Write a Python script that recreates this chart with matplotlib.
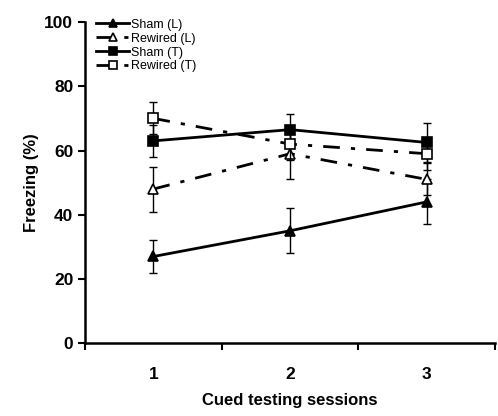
import matplotlib
matplotlib.use("Agg")
import matplotlib.pyplot as plt

plt.rcParams['font.family'] = ['Liberation Sans', 'DejaVu Sans']

# Data
sessions = [1, 2, 3]
session_labels = ["1", "2", "3"]

sham_l = [27, 35, 44]
sham_l_err = [5, 7, 7]
rewired_l = [48, 59, 51]
rewired_l_err = [7, 8, 5]
sham_t = [63, 66.5, 62.5]
sham_t_err = [5, 5, 6]
rewired_t = [70, 62, 59]
rewired_t_err = [5, 5, 5]

fig = plt.figure(figsize=(4.98, 4.16), dpi=100)
ax = fig.add_axes([0.171, 0.175, 0.823, 0.772])

dashdot = (0, (6, 4, 1.5, 4))

series = [
    (sham_l, sham_l_err, "^", "black", "-", "Sham (L)"),
    (rewired_l, rewired_l_err, "^", "white", dashdot, "Rewired (L)"),
    (sham_t, sham_t_err, "s", "black", "-", "Sham (T)"),
    (rewired_t, rewired_t_err, "s", "white", dashdot, "Rewired (T)"),
]

for vals, errs, mk, fc, ls, name in series:
    # error bars first, then the line with markers on top
    ax.errorbar(sessions, vals, yerr=errs, fmt="none", ecolor="black",
                elinewidth=1.0, capsize=3, capthick=1.0)
    ax.plot(sessions, vals, color="black", linestyle=ls, linewidth=2,
            marker=mk, markersize=7, markerfacecolor=fc,
            markeredgecolor="black", markeredgewidth=1.2, label=name)

ax.set_xlim(0.5, 3.5)
ax.set_ylim(0, 100)
ax.set_yticks([0, 20, 40, 60, 80, 100])
ax.set_xticks([0.5, 1.5, 2.5, 3.5])
ax.set_xticklabels([])
ax.set_xticks(sessions, minor=True)
ax.set_xticklabels(session_labels, minor=True)
ax.tick_params(axis="x", which="minor", length=0, pad=17)
ax.tick_params(axis="x", which="major", length=5, width=1.5, direction="out")
ax.tick_params(axis="y", length=5, width=1.5, direction="out")
for lbl in ax.get_xticklabels(minor=True) + ax.get_yticklabels():
    lbl.set_fontsize(12.5)
    lbl.set_fontweight("bold")

for s in ["top", "right"]:
    ax.spines[s].set_visible(False)
for s in ["left", "bottom"]:
    ax.spines[s].set_linewidth(1.8)

ax.set_ylabel("Freezing (%)", fontsize=12, fontweight="bold", labelpad=4)
ax.set_xlabel("Cued testing sessions", fontsize=12, fontweight="bold", labelpad=8)

leg = ax.legend(loc="upper left", bbox_to_anchor=(0.0, 1.045), frameon=False,
                fontsize=9, handlelength=2.6, handletextpad=0.2, labelspacing=0.15,
                markerscale=0.75)

fig.savefig("out.png", dpi=100)
